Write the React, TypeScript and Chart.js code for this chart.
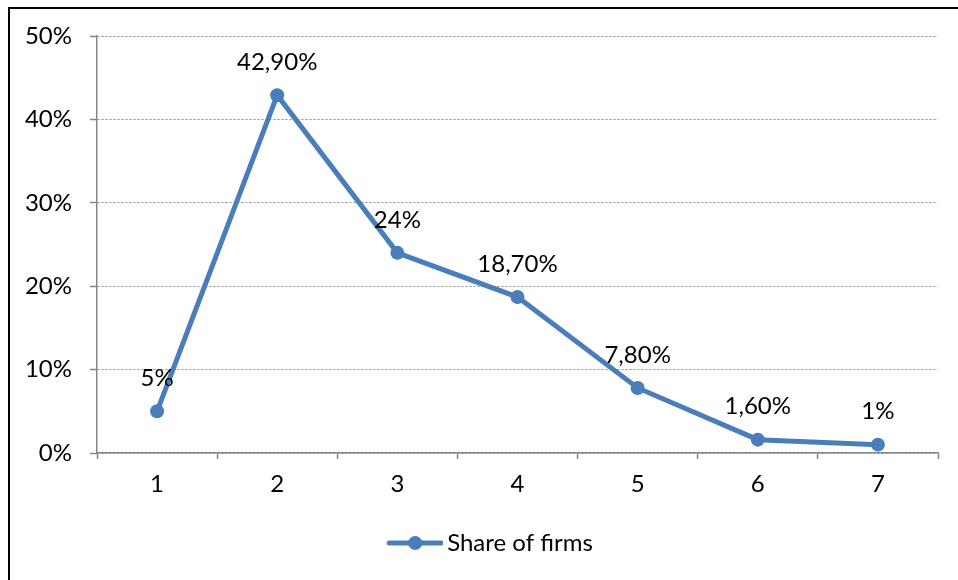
import React, { useEffect, useRef } from "react";
import { Chart, registerables } from "chart.js";

Chart.register(...registerables);

const categories = ["1", "2", "3", "4", "5", "6", "7"];
const shareValues = [5, 42.9, 24, 18.7, 7.8, 1.6, 1];
const valueLabels = ["5%", "42,90%", "24%", "18,70%", "7,80%", "1,60%", "1%"];
const seriesName = "Share of firms";

const BLUE = "#4a7ebb";
const GRAY = "#868686";
const FONT = "Lato, 'Liberation Sans', sans-serif";
const FS = 24;

const dataLabelPlugin = {
  id: "dataLabels",
  afterDatasetsDraw(chart: any) {
    const ctx = chart.ctx;
    const meta = chart.getDatasetMeta(0);
    ctx.save();
    ctx.font = `${FS}px ${FONT}`;
    ctx.fillStyle = "#000";
    ctx.textAlign = "center";
    ctx.textBaseline = "middle";
    meta.data.forEach((pt: any, i: number) => {
      ctx.fillText(valueLabels[i], pt.x, pt.y - 33);
    });
    ctx.restore();
  },
};

// shift the legend box so that it is centred like the reference
const legendShiftPlugin = {
  id: "legendShift",
  afterLayout(chart: any) {
    const lg = chart.legend;
    if (lg) {
      lg.left += 21;
      lg.right += 21;
    }
  },
};

function makeLegendSymbol(): HTMLCanvasElement {
  const c = document.createElement("canvas");
  c.width = 64;
  c.height = 18;
  const g = c.getContext("2d")!;
  g.strokeStyle = BLUE;
  g.lineWidth = 5;
  g.lineCap = "round";
  g.beginPath();
  g.moveTo(10, 9);
  g.lineTo(62, 9);
  g.stroke();
  g.fillStyle = BLUE;
  g.beginPath();
  g.arc(36, 9, 7, 0, Math.PI * 2);
  g.fill();
  return c;
}

export default function App() {
  const ref = useRef<HTMLCanvasElement | null>(null);

  useEffect(() => {
    if (!ref.current) return;
    const symbol = makeLegendSymbol();
    const chart = new Chart(ref.current, {
      type: "line",
      data: {
        labels: categories,
        datasets: [
          {
            label: seriesName,
            data: shareValues,
            borderColor: BLUE,
            backgroundColor: BLUE,
            borderWidth: 5,
            pointRadius: 7,
            pointHoverRadius: 7,
            pointBackgroundColor: BLUE,
            pointBorderWidth: 0,
            tension: 0,
          },
        ],
      },
      options: {
        responsive: false,
        animation: false,
        layout: { padding: { left: 0, right: 20, top: 36, bottom: 15 } },
        plugins: {
          tooltip: { enabled: false },
          legend: {
            position: "bottom",
            labels: {
              usePointStyle: true,
              pointStyle: symbol as any,
              pointStyleWidth: 48,
              color: "#000",
              font: { family: FONT, size: FS },
              padding: 10,
            },
          },
        },
        scales: {
          x: {
            offset: true,
            grid: {
              offset: true,
              drawOnChartArea: false,
              drawTicks: true,
              tickLength: 6,
              tickColor: GRAY,
              tickWidth: 1.5,
            },
            border: { color: GRAY, width: 1.5 },
            ticks: {
              color: "#000",
              font: { family: FONT, size: FS },
              padding: 11,
            },
            afterFit: (s: any) => {
              s.height = 68;
            },
          },
          y: {
            min: 0,
            max: 50,
            ticks: {
              stepSize: 10,
              color: "#000",
              font: { family: FONT, size: FS },
              padding: 18,
              callback: (v: any) => `${v}%`,
            },
            grid: {
              color: "#8c8c8c",
              lineWidth: 1,
              tickLength: 7,
              tickColor: GRAY,
              tickWidth: 1.5,
            },
            border: { color: GRAY, width: 1.5, dash: [2, 2] },
            afterFit: (s: any) => {
              s.width = 97;
            },
          },
        },
      },
      plugins: [dataLabelPlugin, legendShiftPlugin],
    });
    return () => chart.destroy();
  }, []);

  return (
    <div
      style={{
        position: "fixed",
        left: 0,
        top: 0,
        width: 958,
        height: 580,
        overflow: "hidden",
        background: "#fff",
      }}
    >
      <canvas
        ref={ref}
        width={958}
        height={580}
        style={{ position: "absolute", left: 0, top: 0, width: 958, height: 580 }}
      />
      <div
        style={{
          position: "absolute",
          left: 8,
          top: 7,
          width: 2000,
          height: 2000,
          borderTop: "2px solid #000",
          borderLeft: "2px solid #000",
          pointerEvents: "none",
        }}
      />
    </div>
  );
}
